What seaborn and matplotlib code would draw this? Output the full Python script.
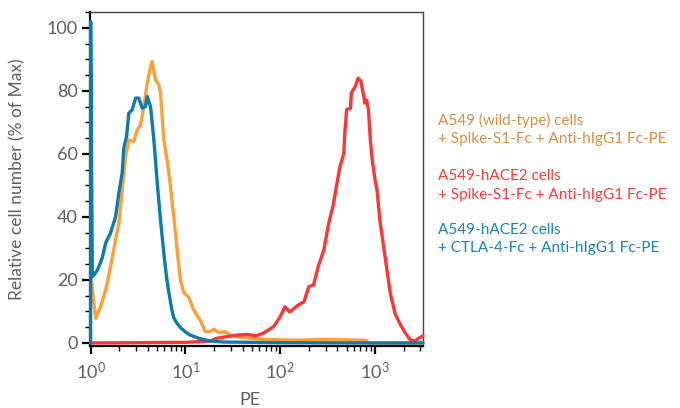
import matplotlib
matplotlib.use("Agg")
import matplotlib.pyplot as plt
import matplotlib.ticker as mticker
import numpy as np
import pandas as pd
import seaborn as sns

# ---- data (PE intensity, % of max) ----
blue_pe = [1.0, 1.0, 1.042, 1.175, 1.327, 1.439, 1.622, 1.832, 1.986, 2.153, 2.239, 2.393,
           2.529, 2.748, 2.979, 3.221, 3.499, 3.793, 3.954, 4.285, 4.645, 5.035, 5.458,
           5.916, 6.31, 6.683, 7.244, 7.534, 8.166, 8.913, 10.0, 11.22, 13.8, 18.2, 25.1,
           100.0, 1000.0, 3200.0]
blue_val = [0, 102, 21, 23, 27, 31.7, 34.9, 40, 47.6, 54, 62, 65.5,
            72.9, 74, 77.7, 77.7, 74.5, 75, 78.2, 75, 64.4, 51, 39,
            28.5, 21, 16, 10, 8, 6.2, 4.8, 3.5, 2.5, 1.5, 0.6, 0.3,
            0.1, 0, 0]

orange_pe = [1.0, 1.130, 1.274, 1.439, 1.622, 1.832, 1.986, 2.153, 2.333, 2.529, 2.858,
             3.097, 3.357, 3.639, 3.954, 4.285, 4.457, 4.831, 5.236, 5.458, 5.675, 5.916,
             6.412, 6.95, 7.534, 8.166, 8.851, 9.594, 10.84, 12.22, 14.39, 16.22, 18.2,
             19.95, 22.39, 26.3, 29.5, 34.7, 47.9, 66.1, 93.3, 158, 251, 398, 631, 813,
             851, 3200]
orange_val = [22, 7.8, 11.5, 16.8, 24.2, 32.7, 38, 48.6, 59, 64.4, 63.9,
              67.6, 69.2, 75, 82.4, 87.7, 89.3, 83.5, 81.9, 79.3, 71.8, 64.4,
              58, 49.6, 40, 29.5, 20, 16, 14.5, 10.5, 7, 3.6, 3.6,
              4.4, 3.3, 3.6, 2.5, 2, 1.5, 1.2, 1, 0.9, 1.1, 1.1, 0.9, 0.8,
              0, 0]

red_pe = [1.0, 10.0, 18.2, 21.4, 27.5, 34.7, 44.7, 56.2, 66.1, 85.1, 100, 112, 126, 151,
          178, 200, 224, 251, 288, 324, 363, 398, 427, 468, 479, 501, 550, 562, 617, 661,
          708, 759, 776, 813, 851, 891, 933, 1000, 1047, 1122, 1230, 1318, 1445, 1622,
          1820, 2089, 2344, 2630, 2884, 3090, 3200]
red_val = [0, 0.2, 0.6, 1.5, 2, 2.5, 2.7, 2.3, 3.1, 5.2, 8.4, 11.5, 9.8, 11.8,
           13.1, 17.9, 18.4, 24.2, 29.5, 38, 44, 51, 56, 60.2, 66.6, 74, 74.5, 79.3, 81.4, 84,
           83, 78.2, 76.1, 77.1, 74, 64.4, 58, 51.7, 48.6, 39, 30.6, 24.2, 15.8, 9.4,
           6.2, 3.1, 1, 0.6, 1.5, 2, 2.3]

labels = [
    ("A549 (wild-type) cells", "+ Spike-S1-Fc + Anti-hIgG1 Fc-PE"),
    ("A549-hACE2 cells", "+ Spike-S1-Fc + Anti-hIgG1 Fc-PE"),
    ("A549-hACE2 cells", "+ CTLA-4-Fc + Anti-hIgG1 Fc-PE"),
]
yticks = [0, 20, 40, 60, 80, 100]
xticks = [1, 10, 100, 1000]
xticklabels = ["10$^{0}$", "10$^{1}$", "10$^{2}$", "10$^{3}$"]

line_colors = ["#FF9F3A", "#FF3535", "#0B7BAA"]
text_colors = ["#DB8E3C", "#FF3B3B", "#1A84B2"]
axis_text = "#5f5f5f"

sns.set_style("ticks")
plt.rcParams["font.family"] = ["Lato", "DejaVu Sans"]
plt.rcParams["mathtext.fontset"] = "custom"
plt.rcParams["mathtext.rm"] = "Lato"
plt.rcParams["mathtext.it"] = "Lato:italic"
plt.rcParams["mathtext.bf"] = "Lato:bold"

fig = plt.figure(figsize=(6.8, 4.08), dpi=100)
ax = fig.add_axes([90 / 680, 1 - 345.5 / 408, 333 / 680, 333.5 / 408])

dfs = [
    pd.DataFrame({"PE": orange_pe, "val": orange_val}),
    pd.DataFrame({"PE": red_pe, "val": red_val}),
    pd.DataFrame({"PE": blue_pe, "val": blue_val}),
]
for i, d in enumerate(dfs):
    sns.lineplot(data=d, x="PE", y="val", ax=ax, sort=False, estimator=None,
                 color=line_colors[i], lw=2.4, clip_on=False, zorder=3 + i)

ax.set_xscale("log")
ax.set_xlim(0.985, 3200)
ax.set_ylim(-0.8, 105)
ax.set_yticks(yticks)
ax.set_yticklabels([str(v) for v in yticks], fontsize=13, color=axis_text)
ax.set_xticks(xticks)
ax.set_xticklabels(xticklabels, fontsize=13, color=axis_text)
ax.yaxis.set_minor_locator(mticker.MultipleLocator(5))
ax.xaxis.set_minor_locator(mticker.LogLocator(base=10, subs=np.arange(2, 10), numticks=20))
ax.xaxis.set_minor_formatter(mticker.NullFormatter())

for s in ["left", "bottom"]:
    ax.spines[s].set_color("black")
    ax.spines[s].set_linewidth(1.6)
for s in ["top", "right"]:
    ax.spines[s].set_color("#444444")
    ax.spines[s].set_linewidth(1.0)

ax.tick_params(which="major", length=6, width=1.6, color="black", pad=3)
ax.tick_params(which="minor", length=3.5, width=1.0, color="black")
ax.tick_params(axis="x", which="major", pad=5)

ax.set_xlabel("PE", fontsize=13, color=axis_text)
ax.set_ylabel("Relative cell number (% of Max)", fontsize=12.5, color=axis_text)
ax.xaxis.set_label_coords(0.48, -0.14)
ax.yaxis.set_label_coords(-0.193, 0.5)

ys = [(120, 139), (176, 195), (230, 248)]
for (l1, l2), (y1, y2), c in zip(labels, ys, text_colors):
    fig.text(438 / 680, 1 - y1 / 408, l1, color=c, fontsize=11, va="center", ha="left")
    fig.text(438 / 680, 1 - y2 / 408, l2, color=c, fontsize=11, va="center", ha="left")

fig.savefig("out.png", dpi=100)
